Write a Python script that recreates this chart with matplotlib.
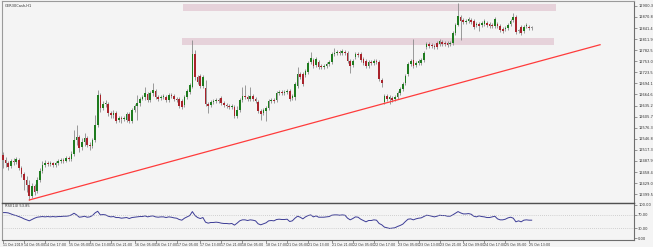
import matplotlib
matplotlib.use("Agg")
import matplotlib.pyplot as plt
from matplotlib.patches import Rectangle

# ==============================================
# DATA (GER30 hourly candles, 11-25 Oct 2019)

title = "GER30Cash,H1"
rsi_title = "RSI(14) 53.85"

opens = [
    12504, 12490, 12482, 12474, 12488, 12485, 12490, 12469, 12453, 12437,
    12424, 12395, 12421, 12408, 12437, 12461, 12477, 12482, 12480, 12482,
    12477, 12482, 12488, 12490, 12488, 12496, 12493, 12506, 12544, 12552,
    12525, 12538, 12549, 12530, 12528, 12544, 12583, 12663, 12629, 12639,
    12639, 12615, 12610, 12615, 12597, 12602, 12599, 12597, 12613, 12594,
    12623, 12634, 12642, 12653, 12658, 12666, 12650, 12669, 12674, 12658,
    12655, 12658, 12658, 12650, 12663, 12661, 12653, 12653, 12647, 12637,
    12658, 12671, 12685, 12772, 12711, 12714, 12687, 12682, 12639, 12637,
    12645, 12647, 12650, 12655, 12642, 12637, 12634, 12631, 12631, 12607,
    12623, 12650, 12661, 12658, 12653, 12661, 12653, 12645, 12621, 12615,
    12621, 12629, 12647, 12650, 12650, 12669, 12671, 12669, 12671, 12674,
    12655, 12658, 12687, 12719, 12719, 12716, 12724, 12751, 12756, 12743,
    12751, 12740, 12738, 12740, 12746, 12751, 12772, 12775, 12778, 12775,
    12778, 12775, 12754, 12743, 12764, 12772, 12772, 12759, 12754, 12740,
    12751, 12748, 12754, 12751, 12703, 12645, 12661, 12653, 12655, 12653,
    12658, 12669, 12679, 12695, 12719, 12746, 12756, 12743, 12748, 12748,
    12756, 12791, 12799, 12796, 12794, 12802, 12799, 12804, 12802, 12802,
    12799, 12802, 12828, 12850, 12871, 12863, 12857, 12860, 12863, 12860,
    12850, 12852, 12850, 12852, 12855, 12852, 12850, 12847, 12852, 12847,
    12839, 12839, 12842, 12852, 12863, 12871, 12834, 12844, 12834, 12847,
    12844, 12842,
]
closes = [
    12490, 12482, 12472, 12488, 12485, 12493, 12469, 12453, 12437, 12424,
    12395, 12421, 12405, 12437, 12461, 12477, 12482, 12480, 12482, 12477,
    12482, 12488, 12490, 12488, 12496, 12493, 12506, 12544, 12552, 12522,
    12538, 12549, 12530, 12528, 12544, 12583, 12663, 12629, 12639, 12642,
    12615, 12610, 12615, 12594, 12602, 12599, 12602, 12613, 12594, 12623,
    12634, 12642, 12653, 12658, 12669, 12650, 12669, 12677, 12658, 12653,
    12658, 12661, 12650, 12663, 12661, 12653, 12650, 12634, 12631, 12658,
    12674, 12690, 12772, 12711, 12698, 12687, 12711, 12639, 12634, 12645,
    12647, 12650, 12647, 12642, 12637, 12634, 12631, 12634, 12607, 12623,
    12650, 12661, 12658, 12653, 12661, 12653, 12647, 12621, 12613, 12623,
    12629, 12647, 12650, 12647, 12669, 12671, 12669, 12671, 12674, 12653,
    12661, 12693, 12719, 12711, 12693, 12727, 12748, 12762, 12740, 12759,
    12738, 12738, 12740, 12746, 12751, 12772, 12775, 12778, 12775, 12780,
    12775, 12754, 12740, 12754, 12772, 12770, 12756, 12748, 12740, 12751,
    12748, 12754, 12751, 12706, 12695, 12661, 12653, 12658, 12650, 12658,
    12669, 12679, 12693, 12714, 12746, 12754, 12740, 12748, 12754, 12756,
    12775, 12799, 12794, 12794, 12791, 12791, 12807, 12799, 12799, 12796,
    12802, 12828, 12850, 12873, 12860, 12857, 12860, 12865, 12857, 12844,
    12852, 12847, 12855, 12860, 12850, 12847, 12847, 12865, 12847, 12836,
    12834, 12842, 12850, 12860, 12871, 12831, 12834, 12828, 12844, 12850,
    12842, 12842,
]
highs = [
    12512, 12498, 12488, 12493, 12496, 12498, 12496, 12474, 12458, 12448,
    12437, 12429, 12427, 12445, 12469, 12488, 12490, 12488, 12488, 12485,
    12488, 12493, 12496, 12496, 12501, 12501, 12514, 12570, 12583, 12557,
    12549, 12562, 12554, 12538, 12549, 12610, 12677, 12669, 12647, 12650,
    12645, 12621, 12623, 12621, 12607, 12607, 12607, 12618, 12618, 12629,
    12639, 12663, 12658, 12663, 12685, 12671, 12674, 12695, 12679, 12663,
    12663, 12666, 12663, 12669, 12669, 12666, 12658, 12658, 12653, 12663,
    12679, 12695, 12810, 12783, 12716, 12719, 12716, 12703, 12645, 12650,
    12653, 12655, 12655, 12661, 12647, 12642, 12639, 12639, 12637, 12634,
    12655, 12685, 12690, 12663, 12685, 12666, 12658, 12650, 12626, 12629,
    12634, 12653, 12655, 12655, 12674, 12677, 12677, 12677, 12679, 12679,
    12666, 12698, 12738, 12724, 12724, 12732, 12754, 12778, 12762, 12764,
    12756, 12746, 12746, 12751, 12756, 12778, 12788, 12783, 12783, 12786,
    12783, 12780, 12759, 12759, 12778, 12778, 12778, 12764, 12759, 12756,
    12756, 12759, 12759, 12756, 12708, 12666, 12666, 12663, 12661, 12663,
    12674, 12685, 12698, 12719, 12751, 12759, 12812, 12754, 12759, 12762,
    12780, 12804, 12804, 12802, 12799, 12807, 12812, 12810, 12807, 12807,
    12807, 12834, 12855, 12908, 12876, 12868, 12865, 12871, 12868, 12865,
    12857, 12857, 12860, 12865, 12860, 12857, 12855, 12871, 12857, 12852,
    12844, 12847, 12855, 12865, 12881, 12876, 12839, 12850, 12850, 12855,
    12850, 12847,
]
lows = [
    12469, 12472, 12464, 12469, 12477, 12480, 12464, 12445, 12411, 12405,
    12384, 12389, 12397, 12403, 12432, 12456, 12472, 12474, 12474, 12472,
    12472, 12477, 12482, 12482, 12485, 12488, 12488, 12501, 12530, 12512,
    12517, 12528, 12525, 12517, 12522, 12538, 12578, 12618, 12623, 12631,
    12607, 12602, 12602, 12589, 12591, 12589, 12594, 12591, 12589, 12589,
    12618, 12597, 12634, 12650, 12650, 12645, 12645, 12661, 12653, 12647,
    12650, 12653, 12645, 12645, 12655, 12647, 12645, 12629, 12626, 12631,
    12653, 12666, 12682, 12703, 12693, 12682, 12682, 12634, 12615, 12631,
    12639, 12642, 12642, 12637, 12631, 12629, 12626, 12626, 12602, 12602,
    12618, 12645, 12653, 12647, 12647, 12647, 12642, 12615, 12597, 12610,
    12594, 12623, 12642, 12642, 12645, 12663, 12663, 12663, 12666, 12647,
    12650, 12650, 12682, 12706, 12687, 12711, 12719, 12746, 12735, 12738,
    12732, 12732, 12732, 12735, 12740, 12746, 12767, 12770, 12770, 12770,
    12770, 12748, 12722, 12738, 12759, 12764, 12751, 12743, 12735, 12735,
    12743, 12743, 12746, 12700, 12685, 12639, 12647, 12639, 12645, 12647,
    12653, 12663, 12674, 12690, 12714, 12740, 12735, 12738, 12743, 12743,
    12751, 12786, 12788, 12788, 12786, 12786, 12794, 12794, 12794, 12791,
    12794, 12796, 12823, 12847, 12810, 12852, 12852, 12855, 12852, 12839,
    12844, 12834, 12844, 12847, 12844, 12842, 12842, 12842, 12842, 12831,
    12828, 12834, 12836, 12847, 12857, 12826, 12828, 12823, 12828, 12842,
    12836, 12836,
]
rsi = [
    77, 77, 76, 73, 70, 68, 65, 62, 58, 55,
    52, 56, 60, 63, 64, 65, 64, 65, 64, 65,
    64, 65, 65, 66, 66, 67, 70, 75, 70, 63,
    64, 66, 63, 64, 68, 76, 81, 70, 71, 70,
    66, 64, 65, 62, 62, 60, 61, 62, 59, 62,
    63, 64, 65, 65, 67, 64, 66, 67, 64, 63,
    64, 64, 62, 64, 63, 61, 60, 56, 54, 60,
    64, 68, 80, 68, 62, 59, 62, 48, 45, 47,
    47, 48, 47, 45, 44, 44, 43, 44, 39, 45,
    52, 55, 55, 53, 55, 54, 52, 43, 40, 43,
    46, 52, 53, 52, 56, 57, 56, 56, 57, 50,
    52, 60, 66, 63, 58, 64, 68, 70, 64, 67,
    63, 63, 63, 64, 65, 69, 70, 70, 69, 70,
    69, 60, 55, 59, 64, 63, 57, 53, 49, 53,
    53, 55, 54, 44, 40, 33, 31, 29, 30, 31,
    35, 38, 42, 50, 57, 58, 55, 58, 60, 61,
    65, 69, 68, 66, 64, 66, 69, 68, 68, 66,
    66, 70, 75, 80, 76, 73, 73, 74, 72, 66,
    64, 67, 65, 64, 62, 62, 64, 66, 58, 55,
    55, 57, 61, 63, 60, 49, 52, 49, 54, 55,
    54, 54,
]

# trend line (bar index, price) and resistance zones (bar from, bar to, price low, price high)
trend_bars = [10, 227]
trend_prices = [12384, 12797]
zones = [(68.5, 210.3, 12887, 12905), (68.0, 209.5, 12796, 12815)]

price_ticks = [12900.3, 12870.8, 12841.4, 12811.9, 12782.5, 12753.0, 12723.5, 12694.1, 12664.6,
               12635.2, 12605.7, 12576.3, 12546.8, 12517.3, 12487.9, 12458.4, 12429.0, 12399.5]
rsi_ticks = [100, 70, 30, 0]

time_tick_bars = [0, 8, 16, 25, 33, 41, 50, 58, 66, 75, 83, 91, 100, 108, 116, 125, 133,
                  141, 150, 158, 166, 175, 183, 191, 200]
time_labels = ["11 Oct 2019", "14 Oct 05:00", "14 Oct 17:00", "15 Oct 05:00", "15 Oct 13:00",
               "15 Oct 21:00", "16 Oct 05:00", "16 Oct 17:00", "17 Oct 05:00", "17 Oct 13:00",
               "17 Oct 21:00", "18 Oct 05:00", "18 Oct 17:00", "21 Oct 05:00", "21 Oct 13:00",
               "21 Oct 21:00", "22 Oct 05:00", "22 Oct 17:00", "23 Oct 05:00", "23 Oct 13:00",
               "23 Oct 21:00", "24 Oct 09:00", "24 Oct 17:00", "25 Oct 05:00", "25 Oct 13:00"]

# ==============================================
# PLOT

W, H = 653, 247
bg = "#f4f4f4"
up_color = "#1e7b1e"
down_color = "#a8232b"
wick_color = "#8a8a8a"
frame_color = "#6e6e6e"
fs_y = 2.6
fs_x = 2.3

fig = plt.figure(figsize=(W / 100, H / 100), dpi=100, facecolor=bg)
ax = fig.add_axes([2 / W, 44 / H, 632 / W, 202 / H], facecolor=bg)
ax_rsi = fig.add_axes([2 / W, 7 / H, 632 / W, 37 / H], facecolor=bg, sharex=ax)

bars = range(len(closes))

for x0, x1, p0, p1 in zones:
    ax.add_patch(Rectangle((x0, p0), x1 - x0, p1 - p0, facecolor="#e6d2da", edgecolor="none", zorder=1))

ax.vlines(bars, lows, highs, color=wick_color, linewidth=0.6, zorder=2)
body_bottom = [min(o, c) for o, c in zip(opens, closes)]
body_height = [max(abs(c - o), 1.2) for o, c in zip(opens, closes)]
colors = [up_color if c > o else (down_color if c < o else wick_color) for o, c in zip(opens, closes)]
ax.bar(bars, body_height, bottom=body_bottom, width=0.62, color=colors, linewidth=0, zorder=3)

ax.plot(trend_bars, trend_prices, color="#ff3b3b", linewidth=0.9, zorder=4)

ax.set_xlim(-0.38, 239.9)
ax.set_ylim(12376, 12913.3)
ax.yaxis.tick_right()
ax.set_yticks(price_ticks)
ax.set_yticklabels([f"{v:.1f}" for v in price_ticks])
ax.tick_params(axis="y", labelsize=fs_y, length=2, width=0.5, color=frame_color, pad=1, labelcolor="#333333")
ax.tick_params(axis="x", bottom=False, labelbottom=False)
for s in ax.spines.values():
    s.set_color(frame_color)
    s.set_linewidth(0.8)
ax.spines["top"].set_color("#9a9a9a")
ax.spines["left"].set_color("#9a9a9a")
ax.text(0.004, 0.985, title, transform=ax.transAxes, fontsize=fs_y, va="top", ha="left", color="#333333")

# RSI pane
ax_rsi.plot(bars, rsi, color="#3c3c96", linewidth=0.7)
for lvl in (70, 30):
    ax_rsi.axhline(lvl, color="#b0b0b0", linewidth=0.5, linestyle=(0, (1, 2)))
ax_rsi.set_ylim(-6, 106)
ax_rsi.yaxis.tick_right()
ax_rsi.set_yticks(rsi_ticks)
ax_rsi.set_yticklabels([f"{v:.2f}" for v in rsi_ticks])
ax_rsi.tick_params(axis="y", labelsize=fs_y, length=2, width=0.5, color=frame_color, pad=1, labelcolor="#333333")
ax_rsi.set_xticks(time_tick_bars)
ax_rsi.set_xticklabels(time_labels, ha="left")
ax_rsi.tick_params(axis="x", labelsize=fs_x, length=2, width=0.5, color=frame_color, pad=0.5, labelcolor="#333333")
for s in ax_rsi.spines.values():
    s.set_color(frame_color)
    s.set_linewidth(0.8)
ax_rsi.spines["left"].set_color("#9a9a9a")
ax_rsi.spines["top"].set_color("#505050")
ax_rsi.spines["top"].set_linewidth(1.0)
ax_rsi.text(0.004, 0.96, rsi_title, transform=ax_rsi.transAxes, fontsize=fs_y, va="top", ha="left", color="#333333")

fig.savefig("out.png", dpi=100, facecolor=bg)
